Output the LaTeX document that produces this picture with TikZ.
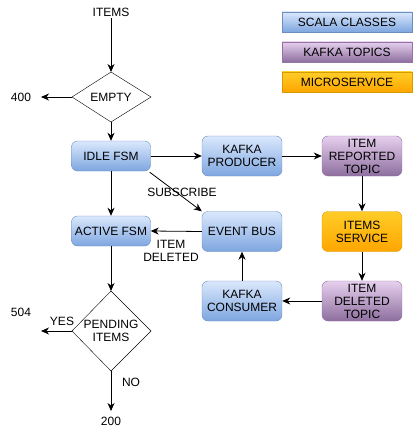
\documentclass[tikz,border=0pt]{standalone}
\usepackage{fontspec}
\setmainfont{Liberation Sans}
\usetikzlibrary{arrows.meta,shapes.geometric,calc}
\definecolor{blueT}{HTML}{DAE8FC}
\definecolor{blueB}{HTML}{7EA6E0}
\definecolor{blueS}{HTML}{6C8EBF}
\definecolor{purT}{HTML}{E6D0EE}
\definecolor{purB}{HTML}{8D6E9E}
\definecolor{purS}{HTML}{9673A6}
\definecolor{orT}{HTML}{FFCD28}
\definecolor{orB}{HTML}{FFA500}
\definecolor{orS}{HTML}{D79B00}
\tikzset{
  base/.style={font=\fontsize{12}{13}\selectfont, align=center, inner sep=0pt},
  scala/.style={base, draw=blueS, top color=blueT, bottom color=blueB, rounded corners=6pt, minimum width=80pt, minimum height=40pt},
  scalaS/.style={scala, minimum height=30pt},
  topic/.style={base, draw=purS, top color=purT, bottom color=purB, rounded corners=6pt, minimum width=80pt, minimum height=40pt},
  svc/.style={base, draw=orS, top color=orT, bottom color=orB, rounded corners=6pt, minimum width=80pt, minimum height=40pt},
  legblue/.style={base, draw=blueS, top color=blueT, bottom color=blueB, minimum width=130pt, minimum height=20pt},
  legpur/.style={base, draw=purS, top color=purT, bottom color=purB, minimum width=130pt, minimum height=20pt},
  legor/.style={base, draw=orS, top color=orT, bottom color=orB, minimum width=130pt, minimum height=20pt},
  lbl/.style={base},
  arr/.style={draw=black, line width=0.8pt, -{Stealth[length=8pt,width=7pt,inset=2.5pt]}}
}
\begin{document}
\begin{tikzpicture}[x=1pt,y=-1pt]
\useasboundingbox (0,0) rectangle (413,433);
% legend
\node[legblue] (lg1) at (347,22) {SCALA CLASSES};
\node[legpur] (lg2) at (347,52) {KAFKA TOPICS};
\node[legor] (lg3) at (347,82) {MICROSERVICE};
% left column
\node[lbl] (items) at (111,12) {ITEMS};
\draw[black] (72,97) -- (111,72) -- (151,97) -- (111,122) -- cycle;
\node[lbl] (empty) at (111,97) {EMPTY};
\coordinate (emptyT) at (111,72);
\coordinate (emptyL) at (72,97);
\coordinate (emptyB) at (111,122);
\node[lbl] (c400) at (21,97) {400};
\coordinate (a400) at (41,97);
\node[scalaS, minimum width=79pt] (idle) at (111,156) {IDLE FSM};
\node[scalaS, minimum width=79pt] (active) at (111,231) {ACTIVE FSM};
\draw[black] (72,331) -- (111,291) -- (151,331) -- (111,371) -- cycle;
\node[lbl] (pending) at (111,331) {PENDING\\ITEMS};
\coordinate (pendT) at (111,291);
\coordinate (pendL) at (72,331);
\coordinate (pendB) at (111,371);
\node[lbl] (c504) at (21,312) {504};
\coordinate (a504) at (41,331);
\node[lbl] (c200) at (111,421) {200};
\coordinate (a200) at (111,411);
% middle column
\node[scala] (producer) at (242,156) {KAFKA\\PRODUCER};
\node[scala] (bus) at (242,231.5) {EVENT BUS};
\node[scala] (consumer) at (242,301) {KAFKA\\CONSUMER};
% right column
\node[topic] (reported) at (362,156) {ITEM\\REPORTED\\TOPIC};
\node[svc] (service) at (362,231.5) {ITEMS\\SERVICE};
\node[topic] (deleted) at (362,301) {ITEM\\DELETED\\TOPIC};
% connectors
\draw[arr] (items.south) ++(0,2) -- (emptyT);
\draw[arr] (emptyL) -- (a400);
\draw[arr] (emptyB) -- (idle.north);
\draw[arr] (idle.east) -- (producer.west);
\draw[arr] (producer.east) -- (reported.west);
\draw[arr] (reported.south) -- (service.north);
\draw[arr] (service.south) -- (deleted.north);
\draw[arr] (deleted.west) -- (consumer.east);
\draw[arr] (consumer.north) -- (bus.south);
\draw[arr] (bus.west) -- (active.east);
\draw[arr] (idle.south) -- (active.north);
\draw[arr] (active.south) -- (pendT);
\draw[arr] (pendL) -- (a504);
\draw[arr] (pendB) -- (a200);
\draw[arr] (idle.south east) ++(-1,1) -- (bus.north west);
% labels
\node[lbl] (subscribe) at (182,192) {SUBSCRIBE};
\node[lbl] (itemdel) at (171,251) {ITEM\\DELETED};
\node[lbl] (yes) at (62,321) {YES};
\node[lbl] (no) at (131,382) {NO};
\end{tikzpicture}
\end{document}
